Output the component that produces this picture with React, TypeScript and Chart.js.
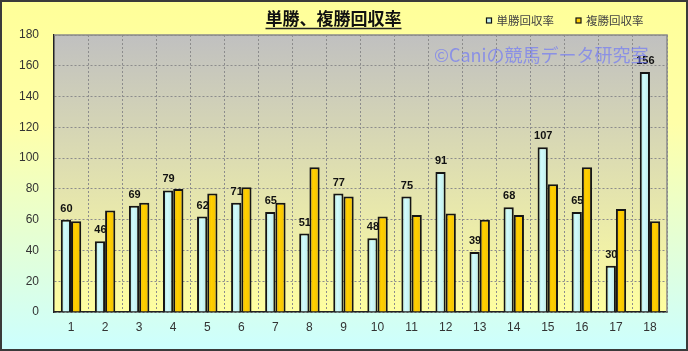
import React, { useEffect, useRef } from 'react';
import { Chart, registerables } from 'chart.js';

Chart.register(...registerables);

const categories = ['1', '2', '3', '4', '5', '6', '7', '8', '9', '10', '11', '12', '13', '14', '15', '16', '17', '18'];
const tanshoValues = [60, 46, 69, 79, 62, 71, 65, 51, 77, 48, 75, 91, 39, 68, 107, 65, 30, 156];
const fukushoValues = [59, 66, 71, 80, 77, 81, 71, 94, 75, 62, 63, 64, 60, 63, 83, 94, 67, 59];
const seriesNames = ['単勝回収率', '複勝回収率'];
const chartTitle = '単勝、複勝回収率';
const watermarkText = '©Caniの競馬データ研究室';
const yMin = 0;
const yMax = 180;
const yStep = 20;

const CJK = '"Noto Sans CJK JP", "Noto Sans", sans-serif';
const LATIN = '"Liberation Sans", Arial, sans-serif';
const CAT_PCT = 0.6;

function barGradient(ctx: any, dsIndex: number) {
  const chart = ctx.chart;
  const xs = chart.scales && chart.scales.x;
  const fallback = dsIndex === 0 ? '#c4f2f2' : '#ffcc00';
  if (!xs || ctx.dataIndex === undefined || !chart.chartArea) return fallback;
  const cx = xs.getPixelForValue(ctx.dataIndex);
  const catW = (chart.chartArea.right - chart.chartArea.left) / categories.length;
  const w = (catW * CAT_PCT) / 2;
  const left = dsIndex === 0 ? cx - w : cx;
  const g = chart.ctx.createLinearGradient(left, 0, left + w, 0);
  if (dsIndex === 0) {
    g.addColorStop(0, '#a6dcdc');
    g.addColorStop(0.4, '#d2fcfc');
    g.addColorStop(1, '#b8e8e8');
  } else {
    g.addColorStop(0, '#e6ae00');
    g.addColorStop(0.4, '#ffd000');
    g.addColorStop(1, '#f2bf00');
  }
  return g;
}

const decorPlugin = {
  id: 'decor',
  beforeDraw(chart: any) {
    const { ctx, width, height, chartArea: a } = chart;
    ctx.save();
    let g = ctx.createLinearGradient(0, 0, 0, height);
    g.addColorStop(0, '#ffff99');
    g.addColorStop(0.35, '#ffffa8');
    g.addColorStop(1, '#ccffff');
    ctx.fillStyle = g;
    ctx.fillRect(0, 0, width, height);
    g = ctx.createLinearGradient(0, a.top, 0, a.bottom);
    g.addColorStop(0, '#c0c0c0');
    g.addColorStop(1, '#ffffa0');
    ctx.fillStyle = g;
    ctx.fillRect(a.left, a.top, a.right - a.left, a.bottom - a.top);
    ctx.restore();
  },
  afterDatasetsDraw(chart: any) {
    const { ctx } = chart;
    const meta = chart.getDatasetMeta(0);
    ctx.save();
    ctx.font = `bold 11px ${LATIN}`;
    ctx.fillStyle = '#111111';
    ctx.textAlign = 'center';
    ctx.textBaseline = 'alphabetic';
    meta.data.forEach((bar: any, i: number) => {
      ctx.fillText(String(tanshoValues[i]), bar.x + 0.5, bar.y - 8);
    });
    ctx.restore();
  },
  afterDraw(chart: any) {
    const { ctx, width, height, chartArea: a } = chart;
    ctx.save();
    // plot top/right border
    ctx.strokeStyle = '#8a8a8a';
    ctx.lineWidth = 1.5;
    ctx.beginPath();
    ctx.moveTo(a.left, a.top);
    ctx.lineTo(a.right, a.top);
    ctx.lineTo(a.right, a.bottom);
    ctx.stroke();

    // watermark
    ctx.font = `18px ${CJK}`;
    ctx.fillStyle = 'rgba(100,110,255,0.6)';
    ctx.textAlign = 'left';
    ctx.textBaseline = 'middle';
    ctx.fillText(watermarkText, 434, 55);

    // title
    ctx.font = `bold 17px ${CJK}`;
    ctx.fillStyle = '#111111';
    ctx.textAlign = 'center';
    ctx.textBaseline = 'middle';
    const tx = 333.5;
    ctx.fillText(chartTitle, tx, 18.5);
    const tw = ctx.measureText(chartTitle).width;
    ctx.strokeStyle = '#222222';
    ctx.lineWidth = 1.5;
    ctx.beginPath();
    ctx.moveTo(tx - tw / 2, 28.5);
    ctx.lineTo(tx + tw / 2, 28.5);
    ctx.stroke();

    // legend
    const legendX = [486.5, 576];
    const legendColors = ['#c4f2f2', '#ffcc00'];
    ctx.font = `11.5px ${CJK}`;
    ctx.textAlign = 'left';
    ctx.textBaseline = 'middle';
    seriesNames.forEach((name, i) => {
      const x = legendX[i];
      ctx.fillStyle = legendColors[i];
      ctx.fillRect(x, 18, 5, 5);
      ctx.strokeStyle = '#111111';
      ctx.lineWidth = 1.2;
      ctx.strokeRect(x, 18, 5, 5);
      ctx.fillStyle = '#444444';
      ctx.fillText(name, x + 10, 21);
    });

    // outer border
    ctx.strokeStyle = '#3a3a3a';
    ctx.lineWidth = 2;
    ctx.strokeRect(1, 1, width - 2, height - 2);
    ctx.restore();
  },
};

export default function App() {
  const canvasRef = useRef<HTMLCanvasElement | null>(null);

  useEffect(() => {
    document.body.style.margin = '0';
    const canvas = canvasRef.current;
    if (!canvas) return;
    const chart = new Chart(canvas, {
      type: 'bar',
      data: {
        labels: categories,
        datasets: [
          {
            label: seriesNames[0],
            data: tanshoValues,
            backgroundColor: (c: any) => barGradient(c, 0),
            borderColor: '#151515',
            borderWidth: 2,
            categoryPercentage: CAT_PCT,
            barPercentage: 1.0,
          },
          {
            label: seriesNames[1],
            data: fukushoValues,
            backgroundColor: (c: any) => barGradient(c, 1),
            borderColor: '#151515',
            borderWidth: 2,
            categoryPercentage: CAT_PCT,
            barPercentage: 1.0,
          },
        ],
      },
      options: {
        responsive: false,
        animation: false,
        devicePixelRatio: 1,
        layout: { padding: { top: 35, right: 21, left: 0, bottom: 0 } },
        plugins: {
          legend: { display: false },
          title: { display: false },
          tooltip: { enabled: false },
        },
        scales: {
          x: {
            offset: true,
            grid: {
              offset: true,
              color: '#8c8c8c',
              lineWidth: 1,
              drawTicks: false,
            },
            border: { display: true, color: '#222222', width: 1.5, dash: [2, 2] },
            ticks: {
              color: '#333333',
              font: { family: LATIN, size: 12 },
              padding: 8,
              maxRotation: 0,
              autoSkip: false,
            },
            afterFit: (scale: any) => {
              scale.height = 39;
            },
          },
          y: {
            min: yMin,
            max: yMax,
            grid: {
              color: '#8c8c8c',
              lineWidth: 1,
              drawTicks: false,
            },
            border: { display: true, color: '#222222', width: 1.5, dash: [2, 2] },
            ticks: {
              stepSize: yStep,
              color: '#333333',
              font: { family: LATIN, size: 12 },
              padding: 15,
            },
            afterFit: (scale: any) => {
              scale.width = 54;
            },
          },
        },
      },
      plugins: [decorPlugin],
    });
    return () => chart.destroy();
  }, []);

  return (
    <div style={{ position: 'absolute', left: 0, top: 0, width: 688, height: 351 }}>
      <canvas ref={canvasRef} width={688} height={351} style={{ display: 'block' }} />
    </div>
  );
}
